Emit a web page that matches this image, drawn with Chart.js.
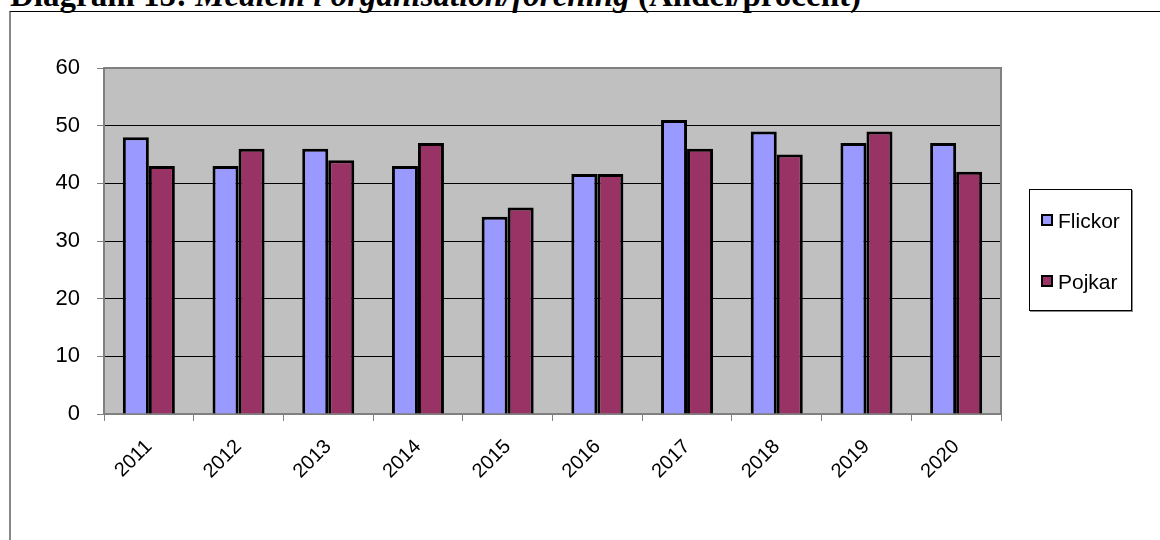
<!DOCTYPE html>
<html>
<head>
<meta charset="utf-8">
<script src="https://cdn.jsdelivr.net/npm/chart.js@4/dist/chart.umd.min.js"></script>
<style>
  html, body { margin: 0; padding: 0; background: #fff; overflow: hidden; }
  #page { position: relative; width: 1160px; height: 540px; }
  #title {
    position: absolute; left: 10px; top: -21px; white-space: nowrap;
    font-family: 'Liberation Serif', 'Times New Roman', serif; font-weight: bold;
    font-size: 33px; line-height: 33px; color: #000;
  }
  #frame {
    position: absolute; left: 9px; top: 11px; width: 1300px; height: 700px;
    border-top: 1px solid #000; border-left: 2px solid #888;
  }
  #chart { position: absolute; left: 0; top: 0; }
  #legend {
    position: absolute; left: 1029px; top: 189px; width: 101px; height: 120px;
    border: 1px solid #000; background: #fff; box-shadow: 1px 1px 0 #888;
    font-family: 'Liberation Sans', Arial, sans-serif; font-size: 21px; color: #000;
  }
  .item { position: absolute; left: 11px; height: 24px; line-height: 24px; white-space: nowrap; }
  .item span.box {
    display: inline-block; width: 8px; height: 8px; border: 2px solid #000;
    vertical-align: middle; margin-right: 5px; position: relative; top: -2px;
  }
</style>
</head>
<body>
<div id="page">
  <div id="title">Diagram 15: <i>Medlem i organisation/förening</i> (Andel/procent)</div>
  <div id="frame"></div>
  <canvas id="chart" width="1160" height="540"></canvas>
  <div id="legend"></div>
</div>
<script>
// Medlem i organisation/förening, andel i procent
const years = ['2011', '2012', '2013', '2014', '2015', '2016', '2017', '2018', '2019', '2020'];
const flickor = [48, 43, 46, 43, 34.2, 41.6, 51, 49, 47, 47];
const pojkar = [43, 46, 44, 47, 35.8, 41.6, 46, 45, 49, 42];
const seriesNames = ['Flickor', 'Pojkar'];
const yTicks = [0, 10, 20, 30, 40, 50, 60];

const colors = {
  flickor: '#9999FF',
  pojkar: '#993366',
  plot: '#C0C0C0',
  axis: '#808080',
  grid: '#000000'
};

// gray plot area with a gray frame, drawn under the bars
const plotArea = {
  id: 'plotArea',
  beforeDraw(chart) {
    const { ctx, chartArea: a } = chart;
    ctx.save();
    ctx.fillStyle = colors.plot;
    ctx.fillRect(a.left, a.top, a.right - a.left, a.bottom - a.top);
    ctx.restore();
  },
  beforeDatasetsDraw(chart) {
    const { ctx, chartArea: a } = chart;
    ctx.save();
    ctx.strokeStyle = colors.axis;
    ctx.lineWidth = 2;
    ctx.strokeRect(a.left, a.top, a.right - a.left, a.bottom - a.top);
    ctx.restore();
  }
};

const font = { family: "'Liberation Sans', Arial, sans-serif" };

const chart = new Chart(document.getElementById('chart'), {
  type: 'bar',
  data: {
    labels: years,
    datasets: [
      { label: seriesNames[0], data: flickor, backgroundColor: colors.flickor },
      { label: seriesNames[1], data: pojkar, backgroundColor: colors.pojkar }
    ].map(d => ({ ...d, borderColor: '#000', borderWidth: 3, categoryPercentage: 0.58, barPercentage: 1 }))
  },
  options: {
    responsive: false,
    animation: false,
    devicePixelRatio: 1,
    layout: { padding: { left: 0, top: 68, right: 159, bottom: 0 } },
    plugins: {
      legend: { display: false },
      tooltip: { enabled: false }
    },
    scales: {
      x: {
        grid: { display: true, drawOnChartArea: false, color: colors.axis, tickLength: 7, offset: true },
        border: { display: true, color: colors.axis, width: 2 },
        ticks: {
          color: '#000', font: { ...font, size: 20 },
          minRotation: 45, maxRotation: 45, padding: 14, autoSkip: false
        },
        afterFit(scale) { scale.height = 126; }
      },
      y: {
        min: 0, max: 60,
        afterBuildTicks(scale) { scale.ticks = yTicks.map(v => ({ value: v })); },
        grid: { color: colors.grid, tickColor: colors.axis, tickLength: 7, lineWidth: 1 },
        border: { display: true, color: colors.axis, width: 2 },
        ticks: { color: '#000', font: { ...font, size: 22 }, padding: 17 },
        afterFit(scale) { scale.width = 104; }
      }
    }
  },
  plugins: [plotArea]
});

// legend built from the chart datasets
const legend = document.getElementById('legend');
const itemTops = [19, 80];
chart.data.datasets.forEach((ds, i) => {
  const item = document.createElement('div');
  item.className = 'item';
  item.style.top = itemTops[i] + 'px';
  item.innerHTML = '<span class="box" style="background:' + ds.backgroundColor + '"></span>' + ds.label;
  legend.appendChild(item);
});
</script>
</body>
</html>
